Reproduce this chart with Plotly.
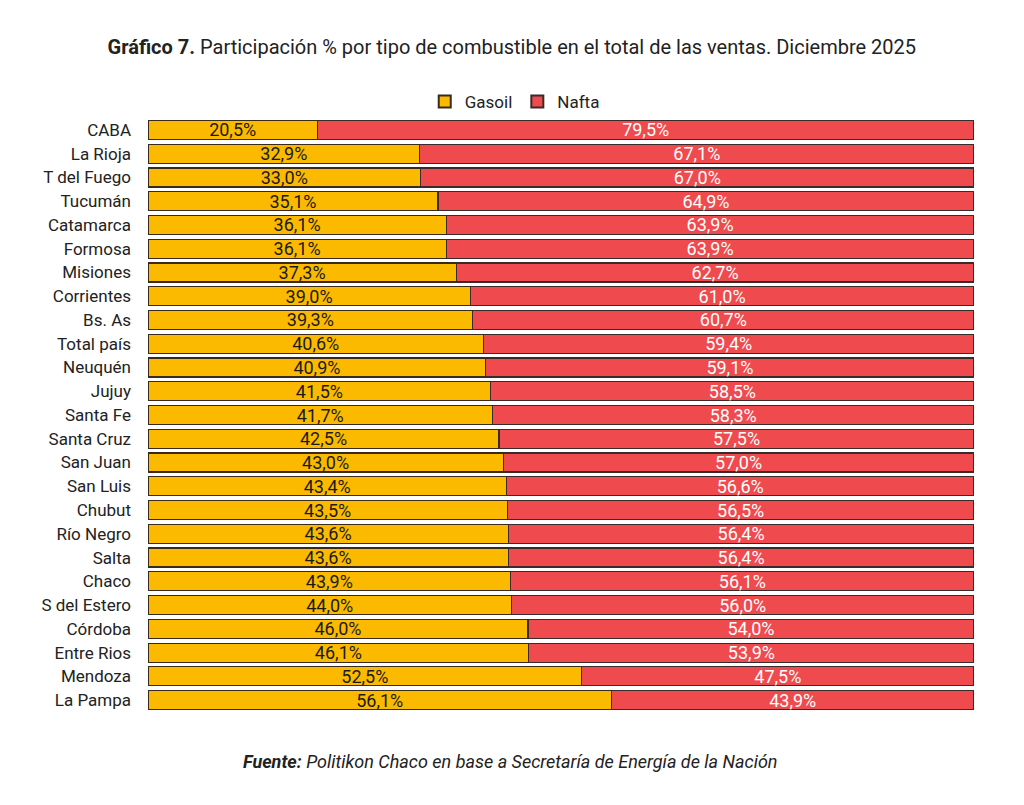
import plotly.graph_objects as go

provincias = ["CABA", "La Rioja", "T del Fuego", "Tucumán", "Catamarca", "Formosa", "Misiones",
              "Corrientes", "Bs. As", "Total país", "Neuquén", "Jujuy", "Santa Fe", "Santa Cruz",
              "San Juan", "San Luis", "Chubut", "Río Negro", "Salta", "Chaco", "S del Estero",
              "Córdoba", "Entre Rios", "Mendoza", "La Pampa"]
gasoil = [20.5, 32.9, 33.0, 35.1, 36.1, 36.1, 37.3, 39.0, 39.3, 40.6, 40.9, 41.5, 41.7, 42.5,
          43.0, 43.4, 43.5, 43.6, 43.6, 43.9, 44.0, 46.0, 46.1, 52.5, 56.1]
nafta = [79.5, 67.1, 67.0, 64.9, 63.9, 63.9, 62.7, 61.0, 60.7, 59.4, 59.1, 58.5, 58.3, 57.5,
         57.0, 56.6, 56.5, 56.4, 56.4, 56.1, 56.0, 54.0, 53.9, 47.5, 43.9]

FONT = "Roboto, Arial"

def fmt(v):
    return f"{v:.1f}%".replace(".", ",")

fig = go.Figure()
fig.add_trace(go.Bar(
    y=provincias, x=gasoil, name="Gasoil", orientation="h",
    marker=dict(color="#FBBA00", line=dict(color="#3a2a1a", width=1.2)),
    text=[fmt(v) for v in gasoil], textposition="inside", insidetextanchor="middle",
    textfont=dict(color="#1a1a1a", size=18, family=FONT), textangle=0,
))
fig.add_trace(go.Bar(
    y=provincias, x=nafta, name="Nafta", orientation="h",
    marker=dict(color="#EF4A4E", line=dict(color="#3a2a2a", width=1.2)),
    text=[fmt(v) for v in nafta], textposition="inside", insidetextanchor="middle",
    textfont=dict(color="#ffffff", size=18, family=FONT), textangle=0,
))

fig.update_layout(
    barmode="stack", bargap=0.2,
    width=1024, height=805,
    paper_bgcolor="white", plot_bgcolor="white",
    margin=dict(l=140, r=58, t=110, b=101, autoexpand=False),
    font=dict(family=FONT, color="#222222", size=16),
    title=dict(
        text="<b>Gráfico 7.</b> Participación % por tipo de combustible en el total de las ventas. Diciembre 2025",
        x=0.492, xanchor="center", y=0.9516, yanchor="middle", yref="container",
        font=dict(size=20, family=FONT, color="#222222"),
    ),
    legend=dict(orientation="h", x=0.444, xanchor="center", y=1.027, yanchor="middle",
                font=dict(size=17, family=FONT), traceorder="normal",
                itemwidth=30, itemsizing="constant"),
    uniformtext=dict(mode="show", minsize=18),
    annotations=[dict(
        text="<b><i>Fuente:</i></b><i> Politikon Chaco en base a Secretaría de Energía de la Nación</i>",
        xref="paper", yref="paper", x=0.438, y=-0.083, xanchor="center", yanchor="middle",
        showarrow=False, font=dict(size=18, family=FONT, color="#222222"),
    )],
)
fig.update_xaxes(range=[0, 100], visible=False, fixedrange=True)
fig.update_yaxes(autorange="reversed", showline=False, ticks="", ticklabelstandoff=16,
                 automargin=False, tickfont=dict(size=17, family=FONT, color="#222222"))

fig.write_html("out.html")
